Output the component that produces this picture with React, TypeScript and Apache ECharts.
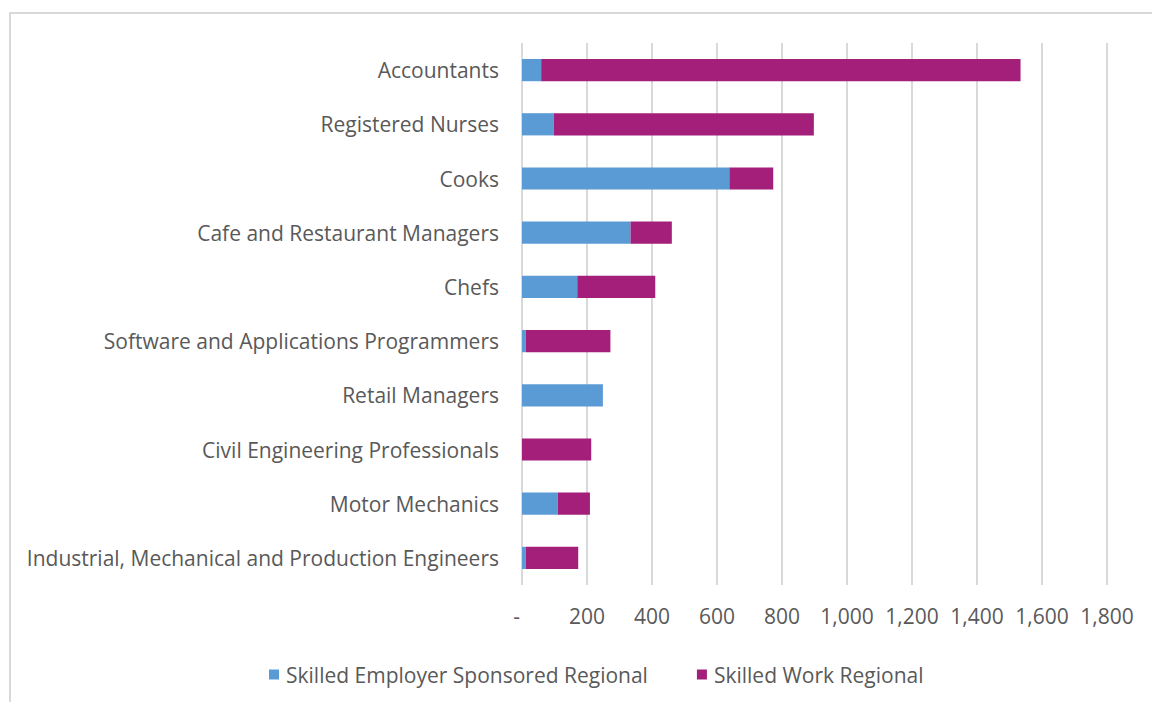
import React, { useEffect, useRef } from "react";
import * as echarts from "echarts";

const categories = [
  "Accountants",
  "Registered Nurses",
  "Cooks",
  "Cafe and Restaurant Managers",
  "Chefs",
  "Software and Applications Programmers",
  "Retail Managers",
  "Civil Engineering Professionals",
  "Motor Mechanics",
  "Industrial, Mechanical and Production Engineers",
];
const employerSponsored = [59, 98, 638, 334, 170, 12, 249, 0, 110, 12];
const workRegional = [1475, 800, 135, 127, 240, 260, 0, 213, 99, 161];
const seriesNames = ["Skilled Employer Sponsored Regional", "Skilled Work Regional"];
const xMin = 0;
const xMax = 1800;
const xInterval = 200;

const FONT = "Open Sans";
const TEXT = "#595959";
const FS = 21;

export default function App() {
  const ref = useRef<HTMLDivElement>(null);
  useEffect(() => {
    if (!ref.current) return;
    const chart = echarts.init(ref.current, null, { renderer: "svg" });
    chart.setOption({
      animation: false,
      backgroundColor: "#ffffff",
      textStyle: { fontFamily: FONT },
      graphic: [
        {
          type: "rect",
          shape: { x: 10, y: 13, width: 1300, height: 800 },
          style: { fill: "none", stroke: "#d9d9d9", lineWidth: 2 },
          silent: true,
        },
      ],
      grid: { left: 522, right: 45, top: 43, bottom: 117, containLabel: false },
      legend: {
        left: 264,
        top: 659,
        itemWidth: 10,
        itemHeight: 10,
        itemGap: 49,
        icon: "rect",
        textStyle: { color: TEXT, fontSize: FS, fontFamily: FONT, padding: [0, 0, 0, 2] },
        data: seriesNames,
      },
      xAxis: {
        type: "value",
        min: xMin,
        max: xMax,
        interval: xInterval,
        axisLine: { show: false },
        axisTick: { show: false },
        axisLabel: {
          color: TEXT,
          fontSize: FS,
          fontFamily: FONT,
          margin: 20,
          formatter: (v: number) => (v === 0 ? "-  " : v.toLocaleString("en-US")),
        },
        splitLine: { show: true, lineStyle: { color: "#d9d9d9", width: 2 } },
      },
      yAxis: {
        type: "category",
        data: categories,
        inverse: true,
        axisLine: { show: false },
        axisTick: { show: false },
        axisLabel: { color: TEXT, fontSize: FS, fontFamily: FONT, margin: 23 },
      },
      series: [
        {
          name: seriesNames[0],
          type: "bar",
          stack: "total",
          barWidth: "41%",
          itemStyle: { color: "#5b9bd5" },
          data: employerSponsored,
        },
        {
          name: seriesNames[1],
          type: "bar",
          stack: "total",
          barWidth: "41%",
          itemStyle: { color: "#a31f7a" },
          data: workRegional,
        },
      ],
    });
    return () => chart.dispose();
  }, []);
  return (
    <div
      ref={ref}
      style={{ position: "fixed", left: 0, top: 0, width: 1152, height: 702 }}
    />
  );
}
